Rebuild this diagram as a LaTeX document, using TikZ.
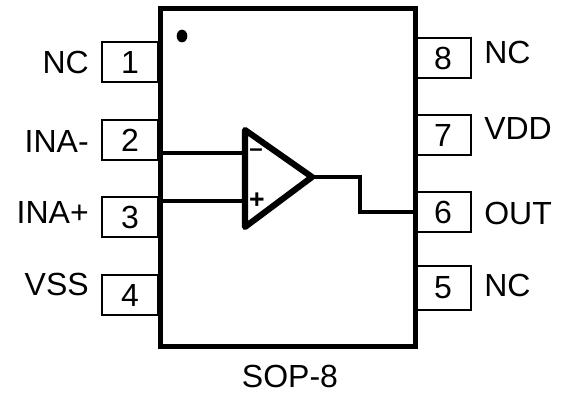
\documentclass[tikz,border=0pt]{standalone}
\usepackage{fontspec}
\setmainfont{Liberation Sans}
\usepackage{tikz}
\usetikzlibrary{shapes.geometric}

\begin{document}
\begin{tikzpicture}[x=0.75pt, y=-0.75pt]
	\tikzset{pin/.style={draw=black, line width=1.5pt, inner sep=0pt, minimum width=42pt, minimum height=#1, font=\fontsize{24}{26}\selectfont}}
	\tikzset{pinlabel/.style={inner sep=0pt, font=\fontsize{24}{26}\selectfont}}
	\tikzset{wire/.style={draw=black, line width=2.6pt}}
	\useasboundingbox (0,0) rectangle (561,394);
	
	% Left pins
	\foreach \n/\y/\h/\ly/\lab in {1/62/30pt/62/NC, 2/140/30pt/141/INA-, 3/217/30pt/212/INA+, 4/295/30pt/284/VSS}{
		\node[pin=\h] (pin\n) at (130,\y) {\n};
		\node[pinlabel, anchor=east] (lab\n) at (89,\ly) {\lab};
	}
	
	% Right pins
	\foreach \n/\y/\h/\ly/\lab in {8/58/30pt/52/NC, 7/135/30pt/128/VDD, 6/212/30pt/213/OUT, 5/288/33pt/285/NC}{
		\node[pin=\h] (pin\n) at (443,\y) {\n};
		\node[pinlabel, anchor=west] (lab\n) at (484,\ly) {\lab};
	}
	
	% Package
	\node[draw=black, fill=white, line width=3.75pt, minimum width=191.25pt, minimum height=253.5pt, inner sep=0pt] (pkg) at (287.5,177) {};
	\node[ellipse, fill=black, inner sep=0pt, minimum width=8pt, minimum height=9.5pt] (dot) at (182,36) {};
	\node[pinlabel] (name) at (290,376) {SOP-8};
	
	% Amplifier
	\coordinate (inm) at (245,153);
	\coordinate (inp) at (245,201);
	\coordinate (tip) at (312,177);
	\coordinate (bend) at (360,177);
	\draw[wire] (pkg.west |- inm) -- (inm);
	\draw[wire] (pkg.west |- inp) -- (inp);
	\draw[wire] (tip) -- (bend) |- (pin6.west);
	\draw[line width=4.6pt, line join=round, line cap=round] (245,130) -- (tip) -- (245,227) -- cycle;
	\node[inner sep=0pt, font=\bfseries\fontsize{18}{20}\selectfont] (minus) at (256,153) {--};
	\node[inner sep=0pt, font=\bfseries\fontsize{20}{20}\selectfont] (plus) at (257,201) {+};
\end{tikzpicture}
\end{document}
